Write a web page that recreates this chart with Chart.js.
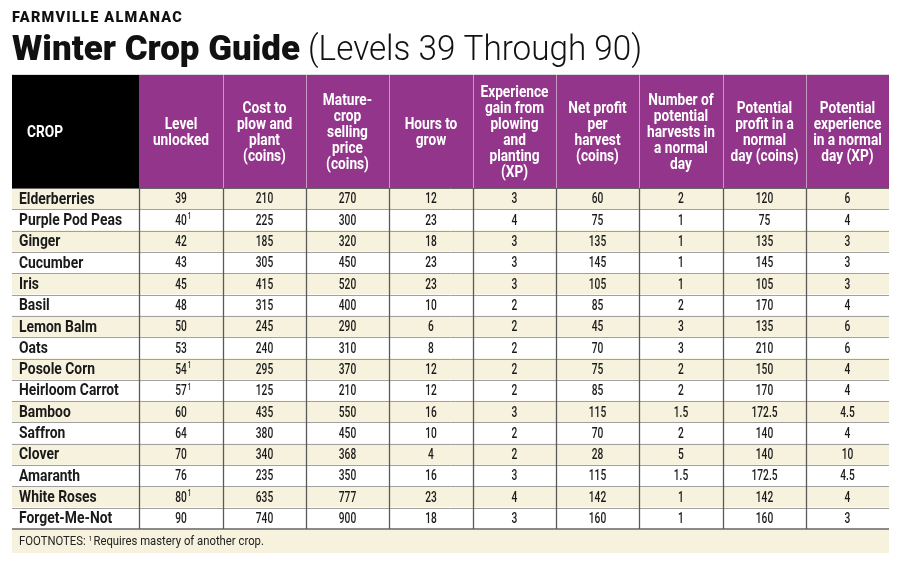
<!DOCTYPE html>
<html><head><meta charset="utf-8">
<script src="https://cdn.jsdelivr.net/npm/chart.js@4"></script>
<style>html,body{margin:0;padding:0;background:#fff}canvas{display:block}</style>
</head><body>
<canvas id="c" width="900" height="569"></canvas>
<script>
const crops = ["Elderberries","Purple Pod Peas","Ginger","Cucumber","Iris","Basil","Lemon Balm","Oats","Posole Corn","Heirloom Carrot","Bamboo","Saffron","Clover","Amaranth","White Roses","Forget-Me-Not"];
const levelUnlocked = [39,40,42,43,45,48,50,53,54,57,60,64,70,76,80,90];
const needsMastery = [false,true,false,false,false,false,false,false,true,true,false,false,false,false,true,false];
const costToPlant = [210,225,185,305,415,315,245,240,295,125,435,380,340,235,635,740];
const sellingPrice = [270,300,320,450,520,400,290,310,370,210,550,450,368,350,777,900];
const hoursToGrow = [12,23,18,23,23,10,6,8,12,12,16,10,4,16,23,18];
const xpGain = [3,4,3,3,3,2,2,2,2,2,3,2,2,3,4,3];
const netProfit = [60,75,135,145,105,85,45,70,75,85,115,70,28,115,142,160];
const harvestsPerDay = [2,1,1,1,1,2,3,3,2,2,1.5,2,5,1.5,1,1];
const profitPerDay = [120,75,135,145,105,170,135,210,150,170,172.5,140,140,172.5,142,160];
const xpPerDay = [6,4,3,3,3,4,6,6,4,4,4.5,4,10,4.5,4,3];
const headers = [
  ["CROP"],
  ["Level","unlocked"],
  ["Cost to","plow and","plant","(coins)"],
  ["Mature-","crop","selling","price","(coins)"],
  ["Hours to","grow"],
  ["Experience","gain from","plowing","and","planting","(XP)"],
  ["Net profit","per","harvest","(coins)"],
  ["Number of","potential","harvests in","a normal","day"],
  ["Potential","profit in a","normal","day (coins)"],
  ["Potential","experience","in a normal","day (XP)"]
];
const kicker = "FARMVILLE ALMANAC";
const titleBold = "Winter Crop Guide";
const titleLight = "(Levels 39 Through 90)";
const footLabel = "FOOTNOTES: ";
const footnote = "Requires mastery of another crop.";

// layout
const colEdges = [0,127,211,294,377,461,544,627,711,794,877];
const PURPLE = "#93368b", CREAM = "#f6f2dd";
const FONT = "Roboto,'Liberation Sans',sans-serif";

const numericCols = [levelUnlocked,costToPlant,sellingPrice,hoursToGrow,xpGain,netProfit,harvestsPerDay,profitPerDay,xpPerDay];

function fitScale(ctx, font, sample, target) {
  ctx.save(); ctx.font = font; const w = ctx.measureText(sample).width; ctx.restore();
  return target / w;
}
function txt(ctx, s, x, y, align, font, sx) {
  ctx.save();
  ctx.font = font;
  ctx.translate(x, y);
  ctx.scale(sx, 1);
  ctx.textAlign = align;
  ctx.fillText(s, 0, 0);
  const w = ctx.measureText(s).width * sx;
  ctx.restore();
  return w;
}

const tablePlugin = {
  id: 'tablePlugin',
  afterDatasetsDraw(chart) {
    const ctx = chart.ctx, xs = chart.scales.x, ys = chart.scales.y;
    const area = chart.chartArea;
    const X = v => xs.getPixelForValue(v);
    const rowH = Math.abs(ys.getPixelForValue(1) - ys.getPixelForValue(0));
    const top = area.top, bottom = area.bottom;
    const headTop = 75;
    ctx.save();
    // titles
    ctx.fillStyle = "#111";
    ctx.textBaseline = "alphabetic";
    const fK = "900 14px " + FONT;
    if ('letterSpacing' in ctx) ctx.letterSpacing = "1.2px";
    txt(ctx, kicker, X(0), 22, "left", fK, fitScale(ctx, fK, kicker, 171));
    if ('letterSpacing' in ctx) ctx.letterSpacing = "0px";
    const fT = "900 35px " + FONT, fL = "300 35px " + FONT;
    txt(ctx, titleBold, X(0), 60, "left", fT, fitScale(ctx, fT, titleBold, 288));
    txt(ctx, titleLight, X(0) + 296, 60, "left", fL, fitScale(ctx, fL, titleLight, 334));
    // top rule
    ctx.strokeStyle = "#dcdcdc"; ctx.lineWidth = 1;
    ctx.beginPath(); ctx.moveTo(X(0), 74.5); ctx.lineTo(X(877), 74.5); ctx.stroke();
    // header
    ctx.fillStyle = "#000";
    ctx.fillRect(X(colEdges[0]), headTop, X(colEdges[1]) - X(colEdges[0]), top - headTop);
    ctx.fillStyle = PURPLE;
    ctx.fillRect(X(colEdges[1]), headTop, X(colEdges[10]) - X(colEdges[1]), top - headTop);
    ctx.strokeStyle = "#c79ac2"; ctx.lineWidth = 1;
    for (let i = 2; i < 10; i++) {
      const px = Math.round(X(colEdges[i])) + 0.5;
      ctx.beginPath(); ctx.moveTo(px, headTop); ctx.lineTo(px, top); ctx.stroke();
    }
    ctx.fillStyle = "#fff";
    const fH = "bold 16px " + FONT;
    const sH = fitScale(ctx, fH, "Experience", 68);
    ctx.textBaseline = "middle";
    const hc = (headTop + top) / 2, lh = 16;
    headers.forEach((lines, i) => {
      const align = i === 0 ? "left" : "center";
      const cx = i === 0 ? X(colEdges[0]) + 15 : (X(colEdges[i]) + X(colEdges[i+1])) / 2;
      lines.forEach((t, k) => {
        txt(ctx, t, cx, hc + (k - (lines.length - 1) / 2) * lh + 1, align, fH, sH);
      });
    });
    // horizontal rules
    ctx.strokeStyle = "#a0a0a0"; ctx.lineWidth = 1;
    for (let r = 0; r < crops.length - 1; r++) {
      const py = Math.round(ys.getPixelForValue(r) + rowH / 2) + 0.5;
      ctx.beginPath(); ctx.moveTo(X(0), py); ctx.lineTo(X(877), py); ctx.stroke();
    }
    ctx.strokeStyle = "#8a8a8a"; ctx.lineWidth = 2;
    ctx.beginPath(); ctx.moveTo(X(0), bottom); ctx.lineTo(X(877), bottom); ctx.stroke();
    ctx.strokeStyle = "#666"; ctx.lineWidth = 1;
    ctx.beginPath(); ctx.moveTo(X(0), top + 0.5); ctx.lineTo(X(877), top + 0.5); ctx.stroke();
    // vertical rules
    ctx.strokeStyle = "#5a5a5a"; ctx.lineWidth = 1.3;
    for (let i = 1; i < 10; i++) {
      const px = Math.round(X(colEdges[i])) + 0.5;
      ctx.beginPath(); ctx.moveTo(px, top); ctx.lineTo(px, bottom); ctx.stroke();
    }
    // cells
    ctx.fillStyle = "#1a1a1a";
    const fN = "bold 16px " + FONT, fD = "500 15px " + FONT, fS = "500 9px " + FONT;
    const sN = fitScale(ctx, fN, "Purple Pod Peas", 103);
    const sD = fitScale(ctx, fD, "172.5", 26);
    crops.forEach((name, r) => {
      const cy = ys.getPixelForValue(r) + 1;
      txt(ctx, name, X(colEdges[0]) + 7, cy, "left", fN, sN);
      numericCols.forEach((arr, c) => {
        const cx = (X(colEdges[c+1]) + X(colEdges[c+2])) / 2;
        const s = String(arr[r]);
        const w = txt(ctx, s, cx, cy, "center", fD, sD);
        if (c === 0 && needsMastery[r]) {
          txt(ctx, "1", cx + w / 2 + 1, cy - 4, "left", fS, sD);
        }
      });
    });
    // footnote
    ctx.fillStyle = CREAM;
    ctx.fillRect(X(0), bottom + 1, X(877) - X(0), 23);
    ctx.fillStyle = "#222";
    const fF = "13px " + FONT, fF2 = "8px " + FONT;
    const sF = fitScale(ctx, fF, footLabel + footnote, 240);
    const fx = X(0) + 7, fy = bottom + 13;
    let fw = txt(ctx, footLabel, fx, fy, "left", fF, sF);
    fw += txt(ctx, "1", fx + fw, fy - 3, "left", fF2, sF) + 1;
    txt(ctx, footnote, fx + fw, fy, "left", fF, sF);
    ctx.restore();
  }
};

new Chart(document.getElementById('c'), {
  type: 'bar',
  data: {
    labels: crops,
    datasets: [{
      data: crops.map(() => [colEdges[0], colEdges[colEdges.length - 1]]),
      backgroundColor: crops.map((_, i) => i % 2 === 0 ? CREAM : "#ffffff"),
      borderWidth: 0,
      barPercentage: 1,
      categoryPercentage: 1
    }]
  },
  options: {
    indexAxis: 'y',
    responsive: false,
    animation: false,
    devicePixelRatio: 1,
    layout: { padding: { left: 12, right: 11, top: 188, bottom: 40 } },
    plugins: { legend: { display: false }, tooltip: { enabled: false } },
    scales: {
      x: { type: 'linear', min: colEdges[0], max: colEdges[colEdges.length - 1], display: false },
      y: { type: 'category', display: false }
    }
  },
  plugins: [tablePlugin]
});
</script>
</body></html>
